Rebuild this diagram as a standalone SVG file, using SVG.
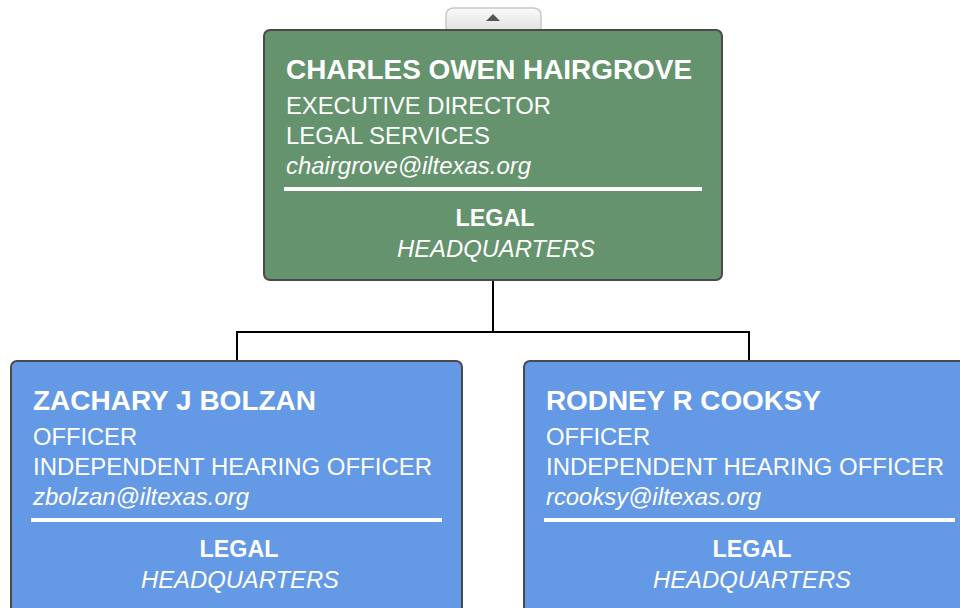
<svg xmlns="http://www.w3.org/2000/svg" width="960" height="608" viewBox="0 0 960 608">
<defs>
<linearGradient id="tabg" x1="0" y1="0" x2="0" y2="1">
<stop offset="0" stop-color="#fafafa"/>
<stop offset="1" stop-color="#e2e2e2"/>
</linearGradient>
</defs>
<style>
.box{stroke:#4a4a4a;stroke-width:2}
.green{fill:#64936d}
.blue{fill:#6499e6}
text{font-family:"Liberation Sans",Arial,sans-serif;fill:#ffffff;font-size:23.5px}
.name{font-weight:bold;font-size:27px}
.em{font-style:italic}
.dept{font-weight:bold;text-anchor:middle}
.loc{font-style:italic;text-anchor:middle}
.sep{fill:#ffffff}
.conn{stroke:#000;stroke-width:2;fill:none}
</style>
<rect width="960" height="608" fill="#ffffff"/>
<g id="collapse-tab">
<path d="M446,30 V16 Q446,8 454,8 H533 Q541,8 541,16 V30 Z" fill="url(#tabg)" stroke="#c8c8c8" stroke-width="1.5"/>
<polygon points="493,14 486,21 500,21" fill="#555555"/>
</g>
<g id="connectors">
<path class="conn" d="M493,280 V332 M237,361 V332 H749 V361"/>
</g>
<g id="node-hairgrove">
<rect class="box green" x="264" y="30" width="458" height="250" rx="6"/>
<text class="name" x="286" y="79" textLength="406" lengthAdjust="spacingAndGlyphs">CHARLES OWEN HAIRGROVE</text>
<text x="286" y="114" textLength="265" lengthAdjust="spacingAndGlyphs">EXECUTIVE DIRECTOR</text>
<text x="286" y="144" textLength="204" lengthAdjust="spacingAndGlyphs">LEGAL SERVICES</text>
<text class="em" x="286" y="174" textLength="245" lengthAdjust="spacingAndGlyphs">chairgrove@iltexas.org</text>
<rect class="sep" x="284" y="187" width="418" height="4"/>
<text class="dept" x="495" y="226" textLength="79" lengthAdjust="spacingAndGlyphs">LEGAL</text>
<text class="loc" x="496" y="257" textLength="198" lengthAdjust="spacingAndGlyphs">HEADQUARTERS</text>
</g>
<g id="node-bolzan">
<rect class="box blue" x="11" y="361" width="451" height="260" rx="6"/>
<text class="name" x="33" y="410" textLength="283" lengthAdjust="spacingAndGlyphs">ZACHARY J BOLZAN</text>
<text x="33" y="445" textLength="104" lengthAdjust="spacingAndGlyphs">OFFICER</text>
<text x="33" y="475" textLength="399" lengthAdjust="spacingAndGlyphs">INDEPENDENT HEARING OFFICER</text>
<text class="em" x="33" y="505" textLength="216" lengthAdjust="spacingAndGlyphs">zbolzan@iltexas.org</text>
<rect class="sep" x="31" y="518" width="411" height="4"/>
<text class="dept" x="239" y="557" textLength="79" lengthAdjust="spacingAndGlyphs">LEGAL</text>
<text class="loc" x="240" y="588" textLength="198" lengthAdjust="spacingAndGlyphs">HEADQUARTERS</text>
</g>
<g id="node-cooksy">
<rect class="box blue" x="524" y="361" width="451" height="260" rx="6"/>
<text class="name" x="546" y="410" textLength="275" lengthAdjust="spacingAndGlyphs">RODNEY R COOKSY</text>
<text x="546" y="445" textLength="104" lengthAdjust="spacingAndGlyphs">OFFICER</text>
<text x="546" y="475" textLength="398" lengthAdjust="spacingAndGlyphs">INDEPENDENT HEARING OFFICER</text>
<text class="em" x="546" y="505" textLength="215" lengthAdjust="spacingAndGlyphs">rcooksy@iltexas.org</text>
<rect class="sep" x="544" y="518" width="411" height="4"/>
<text class="dept" x="752" y="557" textLength="79" lengthAdjust="spacingAndGlyphs">LEGAL</text>
<text class="loc" x="752" y="588" textLength="198" lengthAdjust="spacingAndGlyphs">HEADQUARTERS</text>
</g>
</svg>
